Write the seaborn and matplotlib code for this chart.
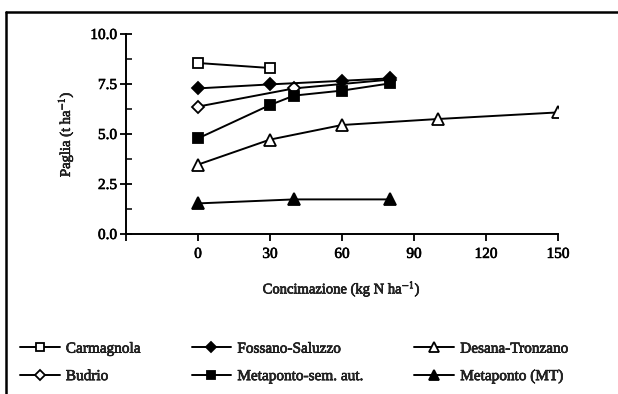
import matplotlib
matplotlib.use("Agg")
import matplotlib.pyplot as plt
from matplotlib.lines import Line2D
import matplotlib.patheffects as pe
import seaborn as sns
import pandas as pd

# ---- data ----
carm_x = [0, 30]
carm_y = [8.55, 8.30]
foss_x = [0, 30, 60, 80]
foss_y = [7.28, 7.48, 7.66, 7.78]
budr_x = [0, 40, 80]
budr_y = [6.37, 7.28, 7.72]
mets_x = [0, 30, 40, 60, 80]
mets_y = [4.78, 6.45, 6.92, 7.17, 7.53]
desa_x = [0, 30, 60, 100, 150]
desa_y = [3.47, 4.72, 5.45, 5.75, 6.08]
metm_x = [0, 40, 80]
metm_y = [1.53, 1.73, 1.73]

x_ticks = [-30, 0, 30, 60, 90, 120, 150]
x_tick_labels = ["", "0", "30", "60", "90", "120", "150"]
y_ticks = [0.0, 2.5, 5.0, 7.5, 10.0]
y_tick_labels = ["0.0", "2.5", "5.0", "7.5", "10.0"]

sns.set_style("ticks")
plt.rcParams["font.family"] = ["Liberation Serif", "DejaVu Serif"]
plt.rcParams["mathtext.fontset"] = "stix"

thick = [pe.withStroke(linewidth=0.45, foreground="black")]

fig = plt.figure(figsize=(6.18, 3.94), dpi=100)
ax = fig.add_axes([126 / 618, 1 - 234 / 394, (558 - 126) / 618, 200 / 394])

series = [
    ("Carmagnola", carm_x, carm_y, "s", "white", 7),
    ("Budrio", budr_x, budr_y, "D", "white", 6),
    ("Fossano-Saluzzo", foss_x, foss_y, "D", "black", 6),
    ("Metaponto-sem. aut.", mets_x, mets_y, "s", "black", 7),
    ("Desana-Tronzano", desa_x, desa_y, "^", "white", 8),
    ("Metaponto (MT)", metm_x, metm_y, "^", "black", 8),
]

handles = []
for name, xs, ys, mk, fc, ms in series:
    df = pd.DataFrame({"x": xs, "y": ys})
    sns.lineplot(data=df, x="x", y="y", ax=ax, color="black", lw=1.4,
                 marker=mk, markersize=ms, markerfacecolor=fc,
                 markeredgecolor="black", markeredgewidth=1.3, legend=False)
    handles.append(Line2D([], [], color="black", lw=1.4, marker=mk, markersize=ms - 1,
                          markerfacecolor=fc, markeredgecolor="black",
                          markeredgewidth=1.3, label=name))

ax.set_xlim(-30, 150)
ax.set_ylim(0, 10)
ax.set_xticks(x_ticks)
ax.set_xticklabels(x_tick_labels)
ax.set_yticks(y_ticks)
ax.set_yticklabels(y_tick_labels)
ax.set_yticks([1.25, 3.75, 6.25, 8.75], minor=True)
ax.tick_params(axis="x", direction="out", length=5, width=1.3, pad=5, labelsize=11, colors="black")
ax.tick_params(axis="y", which="major", direction="inout", length=9, width=1.3, pad=2, labelsize=11, colors="black")
ax.tick_params(axis="y", which="minor", direction="in", length=4, width=1.3)
for s in ["top", "right"]:
    ax.spines[s].set_visible(False)
for s in ["left", "bottom"]:
    ax.spines[s].set_linewidth(1.4)
    ax.spines[s].set_color("black")
for t in ax.get_xticklabels() + ax.get_yticklabels():
    t.set_path_effects(thick)

xl = ax.set_xlabel("Concimazione (kg N ha$^{-1}$)", fontsize=10.5, labelpad=13)
yl = ax.set_ylabel("Paglia (t ha$^{-1}$)", fontsize=10.5, labelpad=11)
xl.set_path_effects(thick)
yl.set_path_effects(thick)

leg = fig.legend(handles=handles, ncol=3, loc="upper left",
                 bbox_to_anchor=(20 / 618, 1 - 342 / 394), frameon=False,
                 fontsize=11, handlelength=2.6, handletextpad=0.4,
                 columnspacing=3.35, labelspacing=0.9, borderpad=0, borderaxespad=0)
for t in leg.get_texts():
    t.set_path_effects(thick)

# frame lines (top and left)
fig.add_artist(Line2D([6 / 618, 6 / 618], [0, 1 - 12 / 394], color="black", lw=1.8,
                      transform=fig.transFigure))
fig.add_artist(Line2D([6 / 618, 1], [1 - 12 / 394, 1 - 12 / 394], color="black", lw=1.8,
                      transform=fig.transFigure))

fig.savefig("out.png", dpi=100, facecolor="white")
